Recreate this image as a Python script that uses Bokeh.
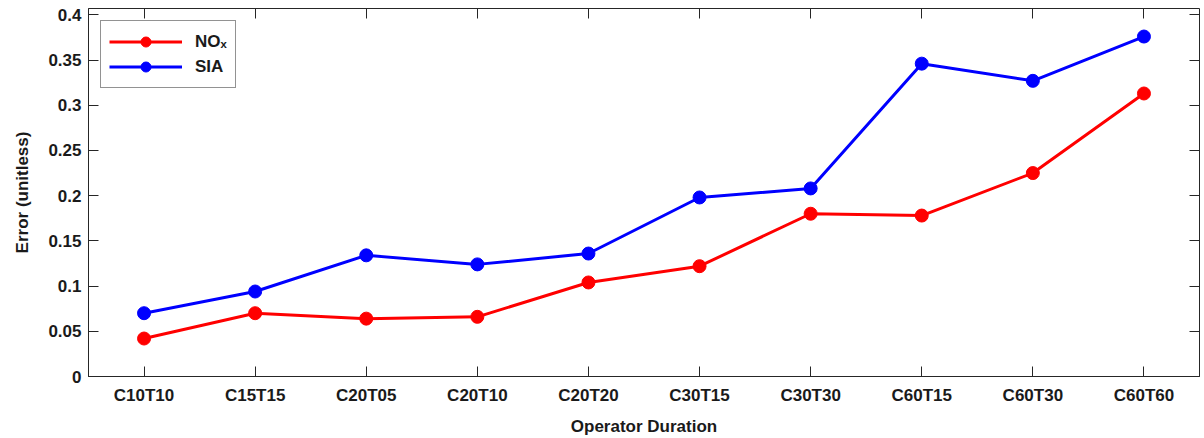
from bokeh.plotting import figure
from bokeh.models import (FixedTicker, LinearAxis, CategoricalAxis, Range1d, FactorRange,
                          Legend, LegendItem, CustomLabelingPolicy)
from bokeh.embed import file_html
from bokeh.resources import INLINE

categories = ["C10T10", "C15T15", "C20T05", "C20T10", "C20T20",
              "C30T15", "C30T30", "C60T15", "C60T30", "C60T60"]
nox = [0.042, 0.070, 0.064, 0.066, 0.104, 0.122, 0.180, 0.178, 0.225, 0.313]
sia = [0.070, 0.094, 0.134, 0.124, 0.136, 0.198, 0.208, 0.346, 0.327, 0.376]
y_ticks = [0, 0.05, 0.1, 0.15, 0.2, 0.25, 0.3, 0.35, 0.4]
y_tick_labels = ["0", "0.05", "0.1", "0.15", "0.2", "0.25", "0.3", "0.35", "0.4"]

FONT = "Liberation Sans"
AX = "#262626"
FS = "17px"

p = figure(width=1204, height=438, output_backend="svg", toolbar_location=None,
           x_range=FactorRange(*categories, range_padding=0),
           y_range=Range1d(0, 0.407),
           min_border_left=88, min_border_right=0, min_border_top=8, min_border_bottom=61,
           background_fill_color="white", border_fill_color="white")
p.xgrid.visible = False
p.ygrid.visible = False
p.outline_line_color = AX
p.outline_line_width = 1

p.yaxis.ticker = FixedTicker(ticks=y_ticks)
p.yaxis.major_label_overrides = {t: l for t, l in zip(y_ticks, y_tick_labels)}

for ax in (p.xaxis[0], p.yaxis[0]):
    ax.axis_line_color = AX
    ax.major_tick_line_color = AX
    ax.major_tick_in = 10
    ax.major_tick_out = 0
    ax.minor_tick_line_color = None
    ax.major_label_text_font = FONT
    ax.major_label_text_font_style = "bold"
    ax.major_label_text_font_size = FS
    ax.major_label_text_color = "#1a1a1a"
    ax.axis_label_text_font = FONT
    ax.axis_label_text_font_style = "bold"
    ax.axis_label_text_font_size = FS
    ax.axis_label_text_color = "#1a1a1a"

p.xaxis.axis_label = "Operator Duration"
p.yaxis.axis_label = "Error (unitless)"
p.xaxis.major_label_standoff = 9
p.xaxis.axis_label_standoff = 9
p.yaxis.major_label_standoff = 7
p.yaxis.axis_label_standoff = 13

top = CategoricalAxis(major_tick_in=10, major_tick_out=0, major_label_text_font_size="1px",
                      major_label_standoff=0, axis_line_color=None, major_tick_line_color=AX,
                      major_label_policy=CustomLabelingPolicy(code="return []"))
right = LinearAxis(ticker=FixedTicker(ticks=y_ticks), major_tick_in=10, major_tick_out=0,
                   major_label_text_font_size="1px", major_label_standoff=0,
                   axis_line_color=None, major_tick_line_color=AX, minor_tick_line_color=None,
                   major_label_policy=CustomLabelingPolicy(code="return []"))
p.add_layout(top, "above")
p.add_layout(right, "right")

r1 = p.line(categories, nox, line_color="#ff0000", line_width=3)
c1 = p.scatter(categories, nox, size=13, fill_color="#ff0000", line_color="#ff0000")
r2 = p.line(categories, sia, line_color="#0000ff", line_width=3)
c2 = p.scatter(categories, sia, size=13, fill_color="#0000ff", line_color="#0000ff")

legend = Legend(items=[LegendItem(label="NO\u2093", renderers=[r1, c1]),
                       LegendItem(label="SIA", renderers=[r2, c2])],
                location="top_left", glyph_width=73, glyph_height=25,
                label_text_font=FONT, label_text_font_style="bold", label_text_font_size=FS,
                label_text_color="#1a1a1a", label_height=25,
                border_line_color=AX, border_line_width=1, padding=8, spacing=0,
                margin=12, label_standoff=13)
p.add_layout(legend)

open("out.html", "w").write(file_html(p, INLINE))
